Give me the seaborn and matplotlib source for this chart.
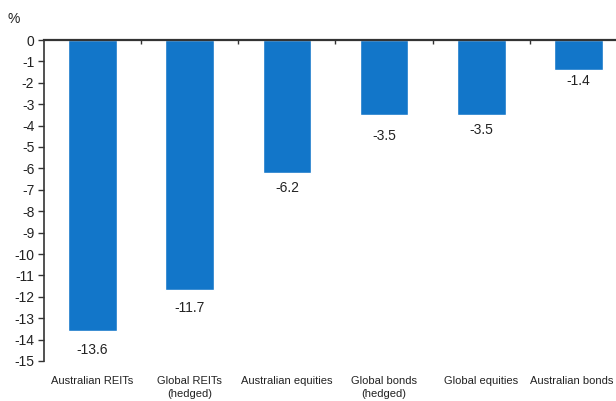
import numpy as np
import pandas as pd
import matplotlib
matplotlib.use('Agg')
import matplotlib.pyplot as plt
import matplotlib.transforms as mtransforms
from matplotlib.ticker import FixedLocator
import seaborn as sns

categories = ['Australian REITs', 'Global REITs\n(hedged)', 'Australian equities',
              'Global bonds\n(hedged)', 'Global equities', 'Australian bonds']
returns = [-13.6, -11.7, -6.2, -3.5, -3.5, -1.4]
y_ticks = list(range(0, -16, -1))
# gap between bar end and value label, in pixels (as in the original)
label_gap = [12, 11, 8, 14, 8, 4]

df = pd.DataFrame({'asset': categories, 'ret': returns})

sns.set_style('white')
plt.rcParams['font.family'] = ['Liberation Sans', 'DejaVu Sans']

fig = plt.figure(figsize=(6.16, 4.01), dpi=100)
ax = fig.add_axes([44 / 616, 1 - 361 / 401, 583 / 616, 321 / 401])

sns.barplot(data=df, x='asset', y='ret', color='#1276c9', width=0.5,
            saturation=1, ax=ax)

for i, (v, g) in enumerate(zip(returns, label_gap)):
    ax.annotate(f'{v:.1f}', (i, v), xytext=(0, -g * 0.72), textcoords='offset points',
                ha='center', va='top', fontsize=10, color='#222222')

ax.set_ylim(-15, 0)
ax.set_xlim(-0.5, len(categories) - 0.5)
ax.set_yticks(y_ticks)
ax.set_yticklabels([str(t) for t in y_ticks])
ax.set_xlabel('')
ax.set_ylabel('')

for s in ['right', 'bottom']:
    ax.spines[s].set_visible(False)
ax.spines['left'].set_color('#333333')
ax.spines['left'].set_linewidth(1.2)
ax.spines['top'].set_color('#333333')
ax.spines['top'].set_linewidth(1.6)

ax.tick_params(axis='y', direction='out', length=4, width=1, color='#333333',
               left=True, labelsize=10, labelcolor='#222222', pad=3)
ax.tick_params(axis='x', which='major', length=0, pad=11, labelsize=8,
               labelcolor='#222222')
for lbl in ax.get_xticklabels():
    lbl.set_linespacing(1.3)
# last label sits on the figure edge, nudge it in so it isn't clipped
last = ax.get_xticklabels()[-1]
last.set_transform(last.get_transform() +
                   mtransforms.ScaledTranslation(-5 / 72, 0, fig.dpi_scale_trans))
ax.xaxis.set_minor_locator(FixedLocator(np.arange(0.5, len(categories) - 0.5, 1)))
ax.tick_params(axis='x', which='minor', top=True, bottom=False, direction='in',
               length=3, width=1, color='#333333')

ax.text(-0.052, 1.045, '%', transform=ax.transAxes, ha='center', va='bottom',
        fontsize=10, color='#222222')

fig.savefig('out.png', dpi=100)
plt.close(fig)
